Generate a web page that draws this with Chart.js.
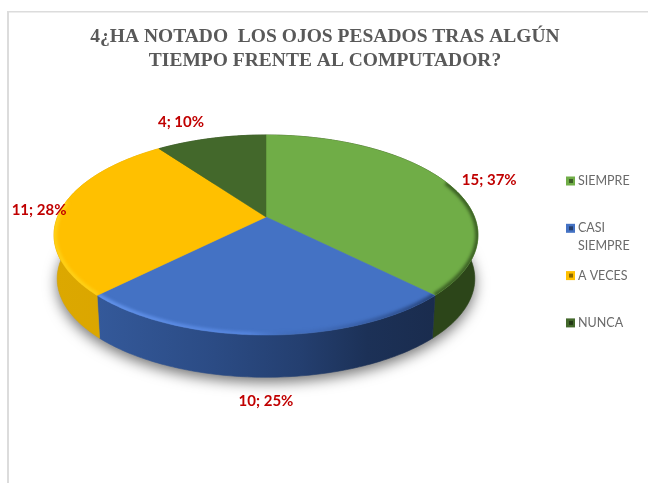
<!DOCTYPE html>
<html><head><meta charset="utf-8">
<style>html,body{margin:0;padding:0;background:#fff}canvas{display:block}</style>
<script src="https://cdn.jsdelivr.net/npm/chart.js@4/dist/chart.umd.min.js"></script>
</head><body><canvas id="c" width="648" height="483"></canvas>
<script>
const titleLines = ['4¿HA NOTADO  LOS OJOS PESADOS TRAS ALGÚN', 'TIEMPO FRENTE AL COMPUTADOR?'];
const categories = ['SIEMPRE', 'CASI SIEMPRE', 'A VECES', 'NUNCA'];
const legendLines = [['SIEMPRE'], ['CASI', 'SIEMPRE'], ['A VECES'], ['NUNCA']];
const values = [15, 10, 11, 4];
const percents = [37, 25, 28, 10];
const topColors = ['#70ad47', '#4472c4', '#ffc000', '#43682b'];

// tilted-disc projection, relative to the pie's own radius
const KX = 1.522, KY = 0.7066, PERSP = 0.18, DEPTH = 0.321, SHRINK = 0.985;
const labelShift = [[43, -2], [0, 66], [-22, 1], [-30, -16]];
const sideStops = [
  [[0, '#2c4519'], [1, '#2c4519']],
  [[0, '#34599a'], [0.35, '#2b4b84'], [0.6, '#243f70'], [0.8, '#1c3157'], [1, '#1a2c4e']],
  [[0, '#dca800'], [1, '#d9a400']],
  [[0, '#2c4519'], [1, '#2c4519']]
];
const bevels = [
  { from: 0.5, to: 1, stops: [[0, 'rgba(35,60,20,.65)'], [1, 'rgba(35,60,20,.65)']] },
  { from: 0, to: 1, stops: [[0, 'rgba(110,160,250,.7)'], [0.45, 'rgba(100,150,245,.5)'], [0.62, 'rgba(40,70,130,.1)'], [1, 'rgba(20,40,80,.6)']] },
  { from: 0, to: 0.55, stops: [[0, 'rgba(255,214,30,.7)'], [1, 'rgba(255,214,30,.7)']] },
  null
];

function project(el, a, below) {
  const t = a + Math.PI / 2, u = Math.sin(t), v = -Math.cos(t);
  const r = el.outerRadius, d = 1 - PERSP * v;
  const dx = KX * r * u / d, dy = KY * r * v / d;
  return below ? [el.x + dx * SHRINK, el.y + dy * SHRINK + DEPTH * r]
               : [el.x + dx, el.y + dy];
}
function curve(ctx, el, a0, a1, below, first) {
  const n = Math.max(4, Math.ceil(Math.abs(a1 - a0) * 60));
  for (let i = 0; i <= n; i++) {
    const p = project(el, a0 + (a1 - a0) * i / n, below);
    (i === 0 && first) ? ctx.moveTo(p[0], p[1]) : ctx.lineTo(p[0], p[1]);
  }
}
function hGrad(ctx, x0, x1, stops) {
  const g = ctx.createLinearGradient(x0, 0, x1, 0);
  stops.forEach(s => g.addColorStop(s[0], s[1]));
  return g;
}
function span(el, a0, a1) {
  let lo = 1e9, hi = -1e9;
  for (let i = 0; i <= 40; i++) {
    const x = project(el, a0 + (a1 - a0) * i / 40, false)[0];
    lo = Math.min(lo, x); hi = Math.max(hi, x);
  }
  return [lo, hi];
}

const disc3d = {
  id: 'disc3d',
  beforeInit(chart) {
    const box = {
      position: 'right', weight: 1, fullSize: false, options: {},
      left: 0, top: 0, right: 0, bottom: 0, width: 0, height: 0,
      isHorizontal() { return false; },
      update(w, h) { this.width = 118; this.height = h; },
      draw() {
        const ctx = chart.ctx;
        ctx.save();
        ctx.textBaseline = 'middle'; ctx.textAlign = 'left';
        ctx.font = '12.5px Lato, "Open Sans", sans-serif';
        legendLines.forEach((lines, i) => {
          const y = 181 + i * 47.3;
          ctx.fillStyle = topColors[i];
          ctx.fillRect(566, y - 4.5, 9, 9);
          ctx.fillStyle = 'rgba(0,0,0,.45)';
          ctx.fillRect(569, y - 2, 4, 4);
          ctx.fillStyle = '#6a6a6a';
          lines.forEach((t, k) => ctx.fillText(t, 578, y + k * 18));
        });
        ctx.restore();
      }
    };
    Chart.layouts.addBox(chart, box);
  },
  beforeDraw(chart) {
    const ctx = chart.ctx;
    ctx.save();
    ctx.fillStyle = '#ffffff';
    ctx.fillRect(0, 0, chart.width, chart.height);
    ctx.fillStyle = '#dcdcdc';
    ctx.fillRect(7, 11, chart.width - 7, 1.5);
    ctx.fillRect(7, 11, 2, chart.height - 11);
    ctx.restore();
  },
  beforeDatasetDraw(chart, args) {
    const ctx = chart.ctx, arcs = args.meta.data, first = arcs[0];
    ctx.save();
    // soft ground shadow
    ctx.save();
    ctx.shadowColor = 'rgba(0,0,0,.55)'; ctx.shadowBlur = 14; ctx.shadowOffsetY = 5;
    ctx.fillStyle = '#999';
    ctx.beginPath();
    curve(ctx, first, 0, Math.PI * 2, true, true);
    ctx.closePath(); ctx.fill();
    ctx.restore();
    // rims
    arcs.forEach((el, i) => {
      const s = span(el, el.startAngle, el.endAngle);
      ctx.fillStyle = hGrad(ctx, s[0], s[1], sideStops[i]);
      ctx.beginPath();
      curve(ctx, el, el.startAngle, el.endAngle, false, true);
      curve(ctx, el, el.endAngle, el.startAngle, true, false);
      ctx.closePath(); ctx.fill();
      ctx.strokeStyle = ctx.fillStyle; ctx.lineWidth = 0.6; ctx.stroke();
    });
    // faces
    arcs.forEach((el, i) => {
      const face = new Path2D();
      face.moveTo(el.x, el.y);
      const n = 120;
      for (let k = 0; k <= n; k++) {
        const p = project(el, el.startAngle + (el.endAngle - el.startAngle) * k / n, false);
        face.lineTo(p[0], p[1]);
      }
      face.closePath();
      ctx.fillStyle = topColors[i];
      ctx.fill(face);
      ctx.strokeStyle = topColors[i]; ctx.lineWidth = 0.5; ctx.stroke(face);
      const b = bevels[i];
      if (b) {
        const sweep = el.endAngle - el.startAngle;
        const a0 = el.startAngle + sweep * b.from, a1 = el.startAngle + sweep * b.to;
        const s = span(el, a0, a1);
        ctx.save();
        ctx.clip(face);
        ctx.filter = 'blur(1.5px)';
        ctx.strokeStyle = hGrad(ctx, s[0], s[1], b.stops);
        ctx.lineWidth = 6;
        ctx.beginPath();
        curve(ctx, el, a0, a1, false, true);
        ctx.stroke();
        ctx.restore();
      }
    });
    // data labels
    ctx.fillStyle = '#c00000';
    ctx.font = 'bold 15px Lato, "Open Sans", sans-serif';
    ctx.textAlign = 'center'; ctx.textBaseline = 'middle';
    arcs.forEach((el, i) => {
      const p = project(el, (el.startAngle + el.endAngle) / 2, false);
      ctx.fillText(values[i] + '; ' + percents[i] + '%', p[0] + labelShift[i][0], p[1] + labelShift[i][1]);
    });
    ctx.restore();
    return false;
  }
};

new Chart(document.getElementById('c'), {
  type: 'pie',
  data: {
    labels: categories,
    datasets: [{ data: values, backgroundColor: topColors, borderWidth: 0 }]
  },
  plugins: [disc3d],
  options: {
    responsive: false,
    animation: false,
    layout: { padding: { left: 2, bottom: 129 } },
    plugins: {
      legend: { display: false },
      tooltip: { enabled: false },
      title: {
        display: true,
        text: titleLines,
        color: '#595959',
        font: { family: '"Liberation Serif", serif', size: 19.5, weight: 'bold', lineHeight: 1.2 },
        padding: { top: 25.5, bottom: 7.7 }
      }
    }
  }
});
</script>
</body></html>
